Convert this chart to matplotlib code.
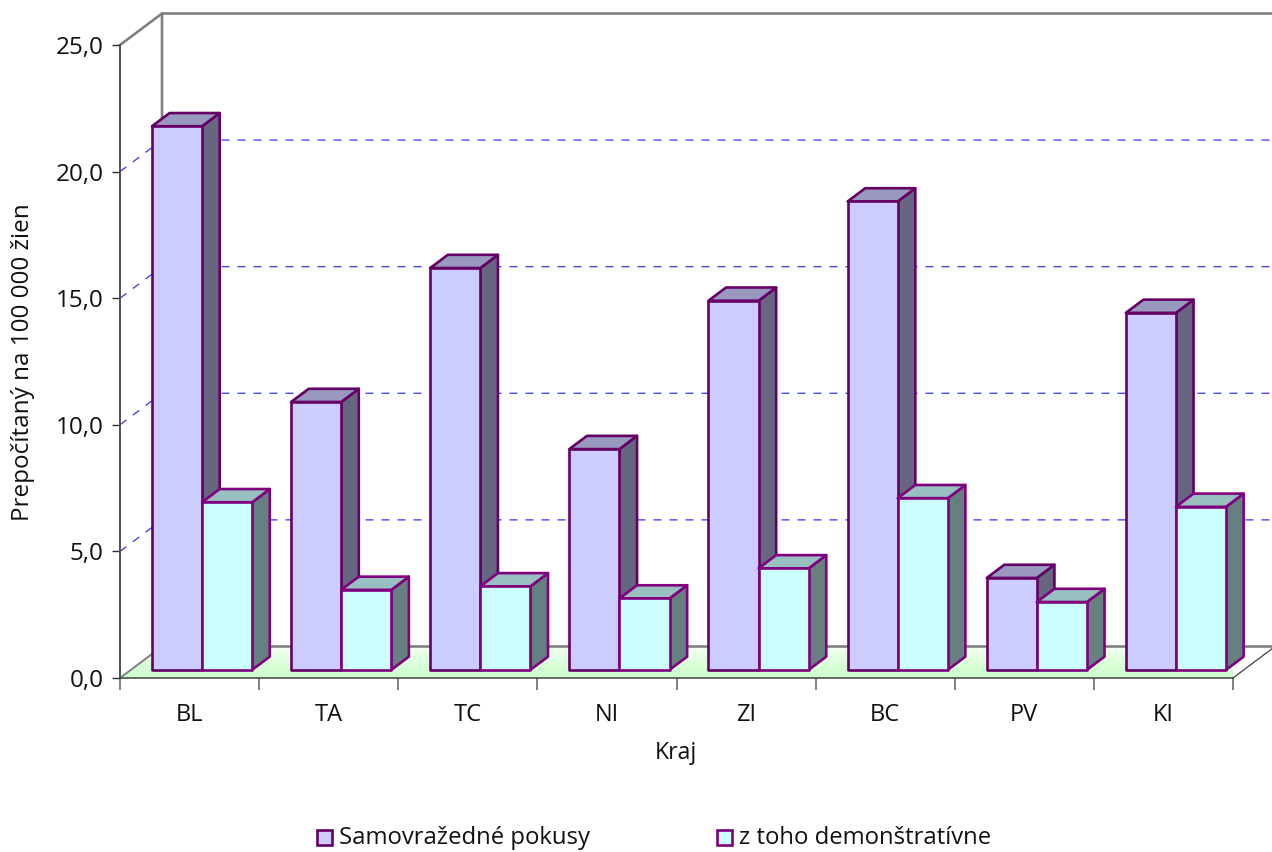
import numpy as np
import matplotlib
matplotlib.use("Agg")
import matplotlib.pyplot as plt
from matplotlib.patches import Polygon, Rectangle

categories = ["BL", "TA", "TC", "NI", "ZI", "BC", "PV", "KI"]
pokusy = [21.47, 10.58, 15.87, 8.72, 14.58, 18.5, 3.63, 14.1]
demonstrativne = [6.62, 3.16, 3.3, 2.82, 4.01, 6.78, 2.68, 6.44]
y_ticks = [0, 5, 10, 15, 20, 25]
y_tick_labels = ["0,0", "5,0", "10,0", "15,0", "20,0", "25,0"]
series_names = ["Samovražedné pokusy", "z toho demonštratívne"]
y_title = "Prepočítaný na 100 000 žien"
x_title = "Kraj"

W, H = 1272, 852
plt.rcParams["font.family"] = ["Open Sans", "DejaVu Sans"]
fig = plt.figure(figsize=(W / 100, H / 100), dpi=100)
ax = fig.add_axes([120 / W, (H - 678) / H, 1113 / W, 633 / H])
ax.patch.set_visible(False)

n = len(categories)
ymax = y_ticks[-1]
DX = 42 / 139.1   # depth of the floor, in category units
DY = 1.245        # depth of the floor, in value units
D0, D1 = 0.258, 0.677  # bars' depth range
BAR_W = 0.36
BAR_X0 = 0.152


def prj(x, v, d):
    return (x + d * DX, v + d * DY)


# floor with gradient
floor = Polygon([prj(0, 0, 0), prj(0, 0, 1), prj(n, 0, 1), prj(n, 0, 0)],
                closed=True, transform=ax.transData, fc="none", ec="none")
ax.add_patch(floor)
t = np.linspace(0, 1, 64)[:, None, None] ** 0.55
grad = t * np.array([[[0.8, 1.0, 0.8]]]) + (1 - t) * np.array([[[1.0, 1.0, 1.0]]])
im = ax.imshow(grad, origin="upper", extent=(0, n + DX, 0, DY), aspect="auto", zorder=0.5)
im.set_clip_path(floor)

# walls
gray = "#808080"
grid = "#3333FF"
wall = dict(color=gray, lw=1.9, clip_on=False, zorder=1, solid_capstyle="projecting")
ax.plot(*zip(prj(0, ymax, 0), prj(0, ymax, 1), prj(0, 0, 1)), **wall)
ax.plot(*zip(prj(0, ymax, 1), prj(n + 1, ymax, 1)), **wall)
ax.plot(*zip(prj(0, 0, 1), prj(n + 1, 0, 1)), **wall)
ax.plot(*zip(prj(0, 0, 0), prj(0, 0, 1)), color=gray, lw=1.4, clip_on=False, zorder=1)
ax.plot(*zip(prj(n, 0, 0), prj(n, 0, 1)), color="#404040", lw=0.9, clip_on=False, zorder=1)
for v in y_ticks[1:-1]:
    ax.plot(*zip(prj(0, v, 0), prj(0, v, 1), prj(n + 1, v, 1)), color=grid, lw=0.9,
            dashes=(6.4, 6.4), clip_on=False, zorder=1)


def bar(x, v, face, top, side, edge, z):
    xa, xb = x, x + BAR_W
    kw = dict(closed=True, ec=edge, lw=1.9, joinstyle="round", clip_on=False, zorder=z)
    ax.add_patch(Polygon([prj(xb, 0, D0), prj(xb, 0, D1), prj(xb, v, D1), prj(xb, v, D0)], fc=side, **kw))
    ax.add_patch(Polygon([prj(xa, v, D0), prj(xa, v, D1), prj(xb, v, D1), prj(xb, v, D0)], fc=top, **kw))
    ax.add_patch(Polygon([prj(xa, 0, D0), prj(xb, 0, D0), prj(xb, v, D0), prj(xa, v, D0)], fc=face, **kw))


for i in range(n):
    bar(i + BAR_X0, pokusy[i], "#CCCCFF", "#9999C0", "#666680", "#660066", 2 + i * 0.1)
    bar(i + BAR_X0 + BAR_W, demonstrativne[i], "#CCFFFF", "#99C0C0", "#668080", "#800080", 2.05 + i * 0.1)

ax.set_xlim(0, n)
ax.set_ylim(0, ymax)

for s in ("top", "right"):
    ax.spines[s].set_visible(False)
ax.spines["left"].set_color("#505050")
ax.spines["left"].set_linewidth(1.4)
ax.spines["bottom"].set_color("#404040")
ax.spines["bottom"].set_linewidth(1.1)

ax.set_yticks(y_ticks)
ax.set_yticklabels(y_tick_labels, fontsize=17.5, color="#111111")
ax.tick_params(axis="y", length=6, width=1.0, color="#303030", pad=6)
ax.set_xticks(range(n + 1))
ax.set_xticklabels([""] * (n + 1))
ax.tick_params(axis="x", which="major", length=8.5, width=1.1, color="#606060")
ax.set_xticks(np.arange(n) + 0.5, minor=True)
ax.set_xticklabels(categories, minor=True, fontsize=17, color="#111111")
ax.tick_params(axis="x", which="minor", length=0, pad=18)

fig.text(23 / W, 1 - 362 / H, y_title, rotation=90, ha="center", va="center", fontsize=17.5, color="#111111")
fig.text(676 / W, 1 - 753 / H, x_title, ha="center", va="center", fontsize=16.6, color="#111111")

# legend
for (x0, name, face, edge) in [(317, series_names[0], "#CCCCFF", "#660066"),
                               (717, series_names[1], "#CCFFFF", "#800080")]:
    fig.add_artist(Rectangle((x0 / W, 1 - 845 / H), 15 / W, 15 / H, transform=fig.transFigure,
                             fc=face, ec=edge, lw=1.9))
    fig.text((x0 + 22) / W, 1 - 838 / H, name, ha="left", va="center", fontsize=17.2, color="#111111")

fig.savefig("out.png", dpi=100)
